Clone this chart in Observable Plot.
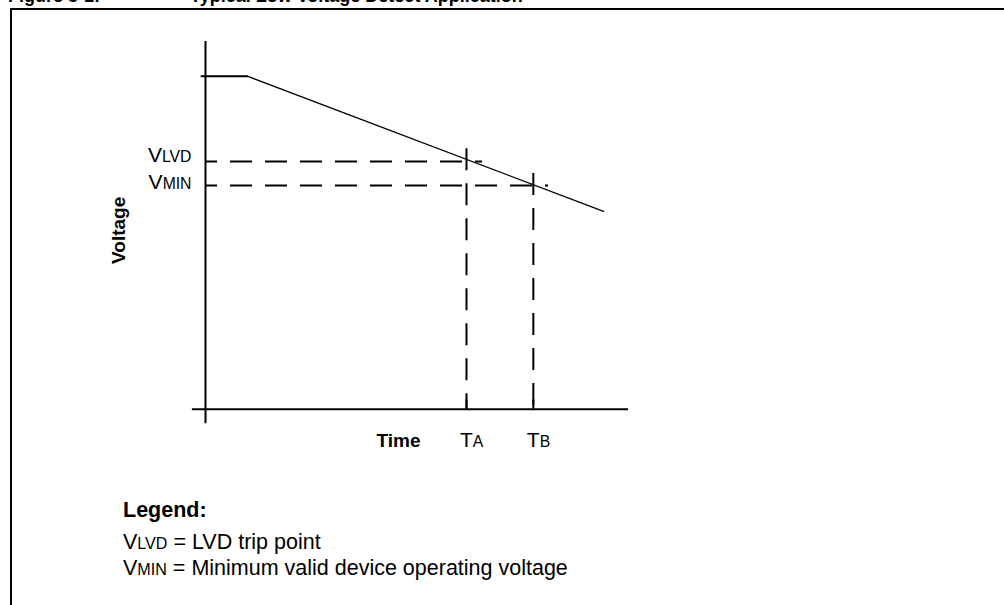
<!DOCTYPE html>
<html><head><meta charset="utf-8">
<script src="https://cdn.jsdelivr.net/npm/d3@7"></script>
<script src="https://cdn.jsdelivr.net/npm/@observablehq/plot@0.6"></script>
<style>
html,body{margin:0;padding:0;background:#fff;overflow:hidden;}
#page{position:relative;width:1004px;height:605px;overflow:hidden;font-family:"Liberation Sans",Arial,sans-serif;color:#000;}
#frame{position:absolute;left:10px;top:8px;width:1100px;height:700px;border:2.5px solid #000;box-sizing:border-box;}
.title{position:absolute;top:-13px;font-weight:bold;font-size:18px;line-height:18px;white-space:nowrap;}
#chart{position:absolute;left:0;top:0;}
.legend{position:absolute;left:123px;font-size:21.5px;line-height:21.5px;white-space:nowrap;}
.sc{font-size:0.75em;}
</style></head>
<body><div id="page">
<div class="title" style="left:8px">Figure 3-1:</div>
<div class="title" style="left:190px">Typical Low Voltage Detect Application</div>
<div id="frame"></div>
<div id="chart"></div>
<div class="legend" style="top:500px;font-weight:bold">Legend:</div>
<div class="legend" style="top:532px">V<span class="sc">LVD</span> = LVD trip point</div>
<div class="legend" style="top:558px">V<span class="sc">MIN</span> = Minimum valid device operating voltage</div>
</div>
<script>
// Axis extents (time units, volts)
const timeAxis = [-3.1, 100];
const voltAxis = [-0.22, 5.52];
// Supply voltage trace
const supplyTime = [-0.95, 9.9, 94.1];
const supplyVolt = [5.0, 5.0, 2.97];
// Threshold levels
const levelNames = ["VLVD", "VMIN"];
const levelVolts = [3.72, 3.36];
const levelEnds = [65.5, 81.1];
// Event times
const eventNames = ["TA", "TB"];
const eventTimes = [61.7, 77.5];
const eventTops = [3.91, 3.54];
const tickTop = 0.14;
const axisTitles = ["Time", "Voltage"];

const supply = supplyTime.map((t, i) => ({t, v: supplyVolt[i]}));
const levels = levelNames.map((name, i) => ({name, v: levelVolts[i], end: levelEnds[i]}));
const events = eventNames.map((name, i) => ({name, t: eventTimes[i], top: eventTops[i]}));

const font = "Liberation Sans, Arial, sans-serif";
const chart = Plot.plot({
  width: 1004, height: 605, margin: 0,
  style: {background: "transparent", overflow: "visible", fontFamily: font},
  x: {domain: [0, 100], range: [205, 628], axis: null},
  y: {domain: [0, 5], range: [408.7, 75.7], axis: null},
  marks: [
    Plot.ruleY([0], {x1: timeAxis[0], x2: timeAxis[1], stroke: "#000", strokeWidth: 2}),
    Plot.ruleX([0], {y1: voltAxis[0], y2: voltAxis[1], stroke: "#000", strokeWidth: 2}),
    Plot.line(supply.slice(0, 2), {x: "t", y: "v", stroke: "#000", strokeWidth: 2}),
    Plot.line(supply.slice(1), {x: "t", y: "v", stroke: "#000", strokeWidth: 1.3}),
    Plot.ruleY(levels, {y: "v", x1: 0, x2: "end", stroke: "#000", strokeWidth: 2, strokeDasharray: "22,13", strokeDashoffset: 10}),
    Plot.ruleX(events, {x: "t", y1: "top", y2: 0, stroke: "#000", strokeWidth: 2, strokeDasharray: "22,13"}),
    Plot.ruleX(events, {x: "t", y1: 0, y2: tickTop, stroke: "#000", strokeWidth: 2}),
    Plot.text(levels.slice(0, 1), {x: 0, y: "v", text: "name", textAnchor: "end", lineAnchor: "bottom", dx: -14, dy: 1, fontSize: 21, fill: "#000"}),
    Plot.text(levels.slice(1), {x: 0, y: "v", text: "name", textAnchor: "end", lineAnchor: "bottom", dx: -14, dy: 3.5, fontSize: 21, fill: "#000"}),
    Plot.text(events, {x: "t", y: 0, text: "name", textAnchor: "start", lineAnchor: "bottom", dx: -6.5, dy: 38, fontSize: 21, fill: "#000"}),
    Plot.text([axisTitles[0]], {x: eventTimes[0], y: 0, text: d => d, textAnchor: "end", lineAnchor: "bottom", dx: -46, dy: 38, fontSize: 19, fontWeight: "bold", fill: "#000"}),
    Plot.text([axisTitles[1]], {x: 0, y: voltAxis[1] / 2, text: d => d, rotate: -90, textAnchor: "middle", lineAnchor: "middle", dx: -87, dy: 5, fontSize: 19, fontWeight: "bold", fill: "#000"})
  ]
});
document.getElementById("chart").appendChild(chart);
// small-cap subscripts, kept as real text
d3.select(chart).selectAll("text").each(function() {
  const s = this.textContent;
  if (levelNames.includes(s) || eventNames.includes(s)) {
    const el = d3.select(this);
    el.text(null);
    el.append("tspan").text(s[0]);
    el.append("tspan").attr("font-size", "0.75em").text(s.slice(1));
  }
});
</script>
</body></html>
